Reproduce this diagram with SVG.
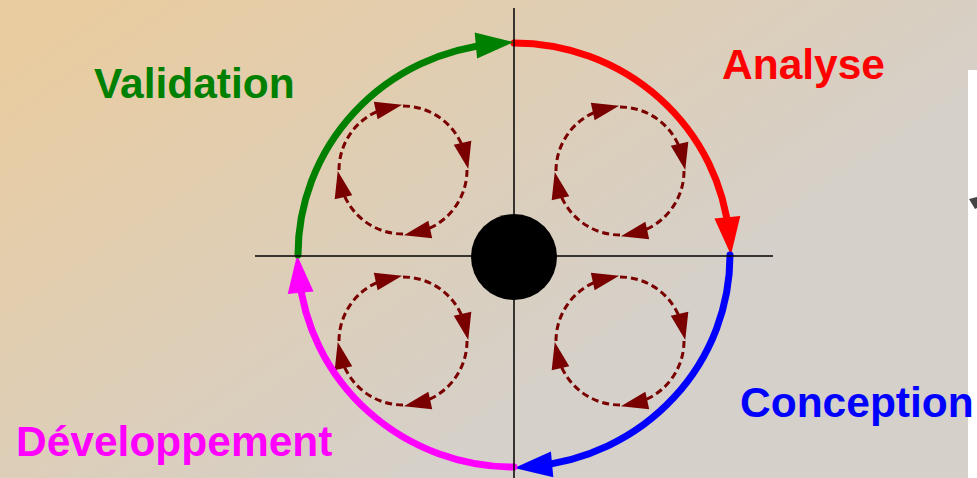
<svg xmlns="http://www.w3.org/2000/svg" width="977" height="478" viewBox="0 0 977 478">
  <defs>
    <linearGradient id="bg" gradientUnits="userSpaceOnUse" x1="100" y1="0" x2="420" y2="478">
      <stop offset="0" stop-color="#e9cca0"/>
      <stop offset="1" stop-color="#d5d0c9"/>
    </linearGradient>
    <marker id="mGreen" markerUnits="userSpaceOnUse" markerWidth="40" markerHeight="28" refX="18" refY="13" orient="auto" overflow="visible">
      <path d="M0,0 L38,13 L0,26 z" fill="#008000"/>
    </marker>
    <marker id="mRed" markerUnits="userSpaceOnUse" markerWidth="40" markerHeight="28" refX="18" refY="13" orient="auto" overflow="visible">
      <path d="M0,0 L38,13 L0,26 z" fill="#ff0000"/>
    </marker>
    <marker id="mBlue" markerUnits="userSpaceOnUse" markerWidth="40" markerHeight="28" refX="18" refY="13" orient="auto" overflow="visible">
      <path d="M0,0 L38,13 L0,26 z" fill="#0000ff"/>
    </marker>
    <marker id="mMag" markerUnits="userSpaceOnUse" markerWidth="40" markerHeight="28" refX="18" refY="13" orient="auto" overflow="visible">
      <path d="M0,0 L38,13 L0,26 z" fill="#ff00ff"/>
    </marker>
    <marker id="mSmall" markerUnits="userSpaceOnUse" markerWidth="30" markerHeight="20" refX="14" refY="9" orient="auto" overflow="visible">
      <path d="M0,0 L27,9 L0,18 z" fill="#7a0000"/>
    </marker>
  </defs>
  <style>
    .big { fill: none; stroke-width: 7; stroke-linecap: round; }
    .cyc path { fill: none; stroke: #7a0000; stroke-width: 3; stroke-dasharray: 7 4; marker-end: url(#mSmall); }
    .lbl { font-family: "Liberation Sans", Arial, sans-serif; font-weight: bold; font-size: 42.5px; }
    .axis { stroke: #000; stroke-width: 1.5; }
  </style>

  <rect x="0" y="0" width="977" height="478" fill="url(#bg)"/>
  <rect x="968" y="70" width="9" height="408" fill="#ffffff"/>
  <polygon points="969,199 977,197 977,208 975,209" fill="#444"/>

  <g id="cycles">
    <g id="cycle-tl" class="cyc" transform="translate(403,170)">
      <path d="M-64,0 A64,64 0 0 1 -13.6,-62.5"/>
      <path d="M0,-64 A64,64 0 0 1 62.5,-13.6"/>
      <path d="M64,0 A64,64 0 0 1 13.6,62.5"/>
      <path d="M0,64 A64,64 0 0 1 -62.5,13.6"/>
    </g>
    <g id="cycle-tr" class="cyc" transform="translate(620,171)">
      <path d="M-64,0 A64,64 0 0 1 -13.6,-62.5"/>
      <path d="M0,-64 A64,64 0 0 1 62.5,-13.6"/>
      <path d="M64,0 A64,64 0 0 1 13.6,62.5"/>
      <path d="M0,64 A64,64 0 0 1 -62.5,13.6"/>
    </g>
    <g id="cycle-bl" class="cyc" transform="translate(403,341)">
      <path d="M-64,0 A64,64 0 0 1 -13.6,-62.5"/>
      <path d="M0,-64 A64,64 0 0 1 62.5,-13.6"/>
      <path d="M64,0 A64,64 0 0 1 13.6,62.5"/>
      <path d="M0,64 A64,64 0 0 1 -62.5,13.6"/>
    </g>
    <g id="cycle-br" class="cyc" transform="translate(620,341)">
      <path d="M-64,0 A64,64 0 0 1 -13.6,-62.5"/>
      <path d="M0,-64 A64,64 0 0 1 62.5,-13.6"/>
      <path d="M64,0 A64,64 0 0 1 13.6,62.5"/>
      <path d="M0,64 A64,64 0 0 1 -62.5,13.6"/>
    </g>
  </g>

  <g id="connectors">
    <path id="arc-analyse" class="big" stroke="#ff0000" marker-end="url(#mRed)" d="M514,43 A216,212 0 0 1 729.06,235.2"/>
    <path id="arc-conception" class="big" stroke="#0000ff" marker-end="url(#mBlue)" d="M730,255 A216,212 0 0 1 534.2,466.07"/>
    <path id="arc-developpement" class="big" stroke="#ff00ff" marker-end="url(#mMag)" d="M514,467 A216,212 0 0 1 298.94,274.8"/>
    <path id="arc-validation" class="big" stroke="#008000" marker-end="url(#mGreen)" d="M298,255 A216,212 0 0 1 493.8,43.9"/>
  </g>

  <g id="axes">
    <line class="axis" x1="514" y1="8" x2="514" y2="478"/>
    <line class="axis" x1="255" y1="256" x2="773" y2="256"/>
  </g>

  <g id="center">
    <circle cx="514" cy="257" r="43" fill="#000"/>
  </g>

  <g id="label-validation"><text class="lbl" x="94" y="98" fill="#008000">Validation</text></g>
  <g id="label-analyse"><text class="lbl" x="722" y="79" fill="#ff0000">Analyse</text></g>
  <g id="label-conception"><text class="lbl" x="740" y="417" fill="#0000ff">Conception</text></g>
  <g id="label-developpement"><text class="lbl" x="16" y="456" fill="#ff00ff">Développement</text></g>
</svg>
